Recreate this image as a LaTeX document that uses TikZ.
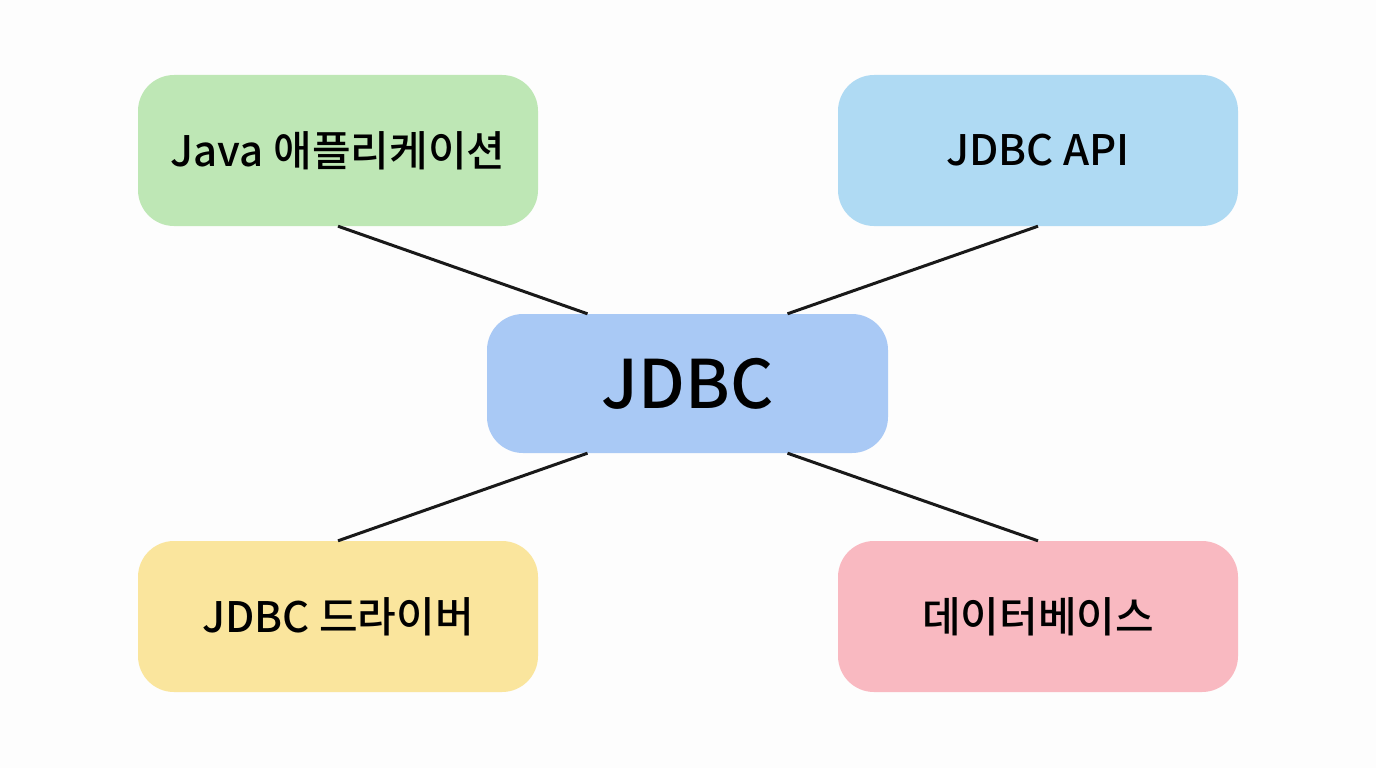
\documentclass[tikz,border=0pt]{standalone}
\usepackage{fontspec}
\setmainfont{Noto Sans CJK KR}[UprightFont=* Medium]
\usetikzlibrary{calc}
\definecolor{bg}{HTML}{FDFDFD}
\definecolor{cgreen}{HTML}{BEE7B5}
\definecolor{csky}{HTML}{AFDAF3}
\definecolor{cblue}{HTML}{A9C9F5}
\definecolor{cyellow}{HTML}{FAE59D}
\definecolor{cpink}{HTML}{F9B9C1}
\tikzset{
  box/.style={rounded corners=36pt, minimum width=400pt, minimum height=151pt, inner sep=0pt, font=\fontsize{42}{50}\selectfont, text=black},
  centerbox/.style={rounded corners=36pt, minimum width=401pt, minimum height=139pt, inner sep=0pt, font=\fontsize{67}{80}\selectfont, text=black},
  link/.style={line width=3pt, draw=black!90}
}
\begin{document}
\begin{tikzpicture}[x=1pt,y=1pt]
\fill[bg] (0,0) rectangle (1376,-768);
\useasboundingbox (0,0) rectangle (1376,-768);
\node[box, fill=cgreen] (app) at (338,-150.5) {\raisebox{-4pt}{Java 애플리케이션}};
\node[box, fill=csky] (api) at (1038,-150.5) {JDBC API};
\node[box, fill=cyellow] (drv) at (338,-616.5) {JDBC 드라이버};
\node[box, fill=cpink] (db) at (1038,-616.5) {데이터베이스};
\node[centerbox, fill=cblue] (jdbc) at (687.5,-383.5) {JDBC};
\draw[link] (app.south) -- ($(jdbc.north)+(-100,0)$);
\draw[link] (api.south) -- ($(jdbc.north)+(100,0)$);
\draw[link] (drv.north) -- ($(jdbc.south)+(-100,0)$);
\draw[link] (db.north) -- ($(jdbc.south)+(100,0)$);
\end{tikzpicture}
\end{document}
